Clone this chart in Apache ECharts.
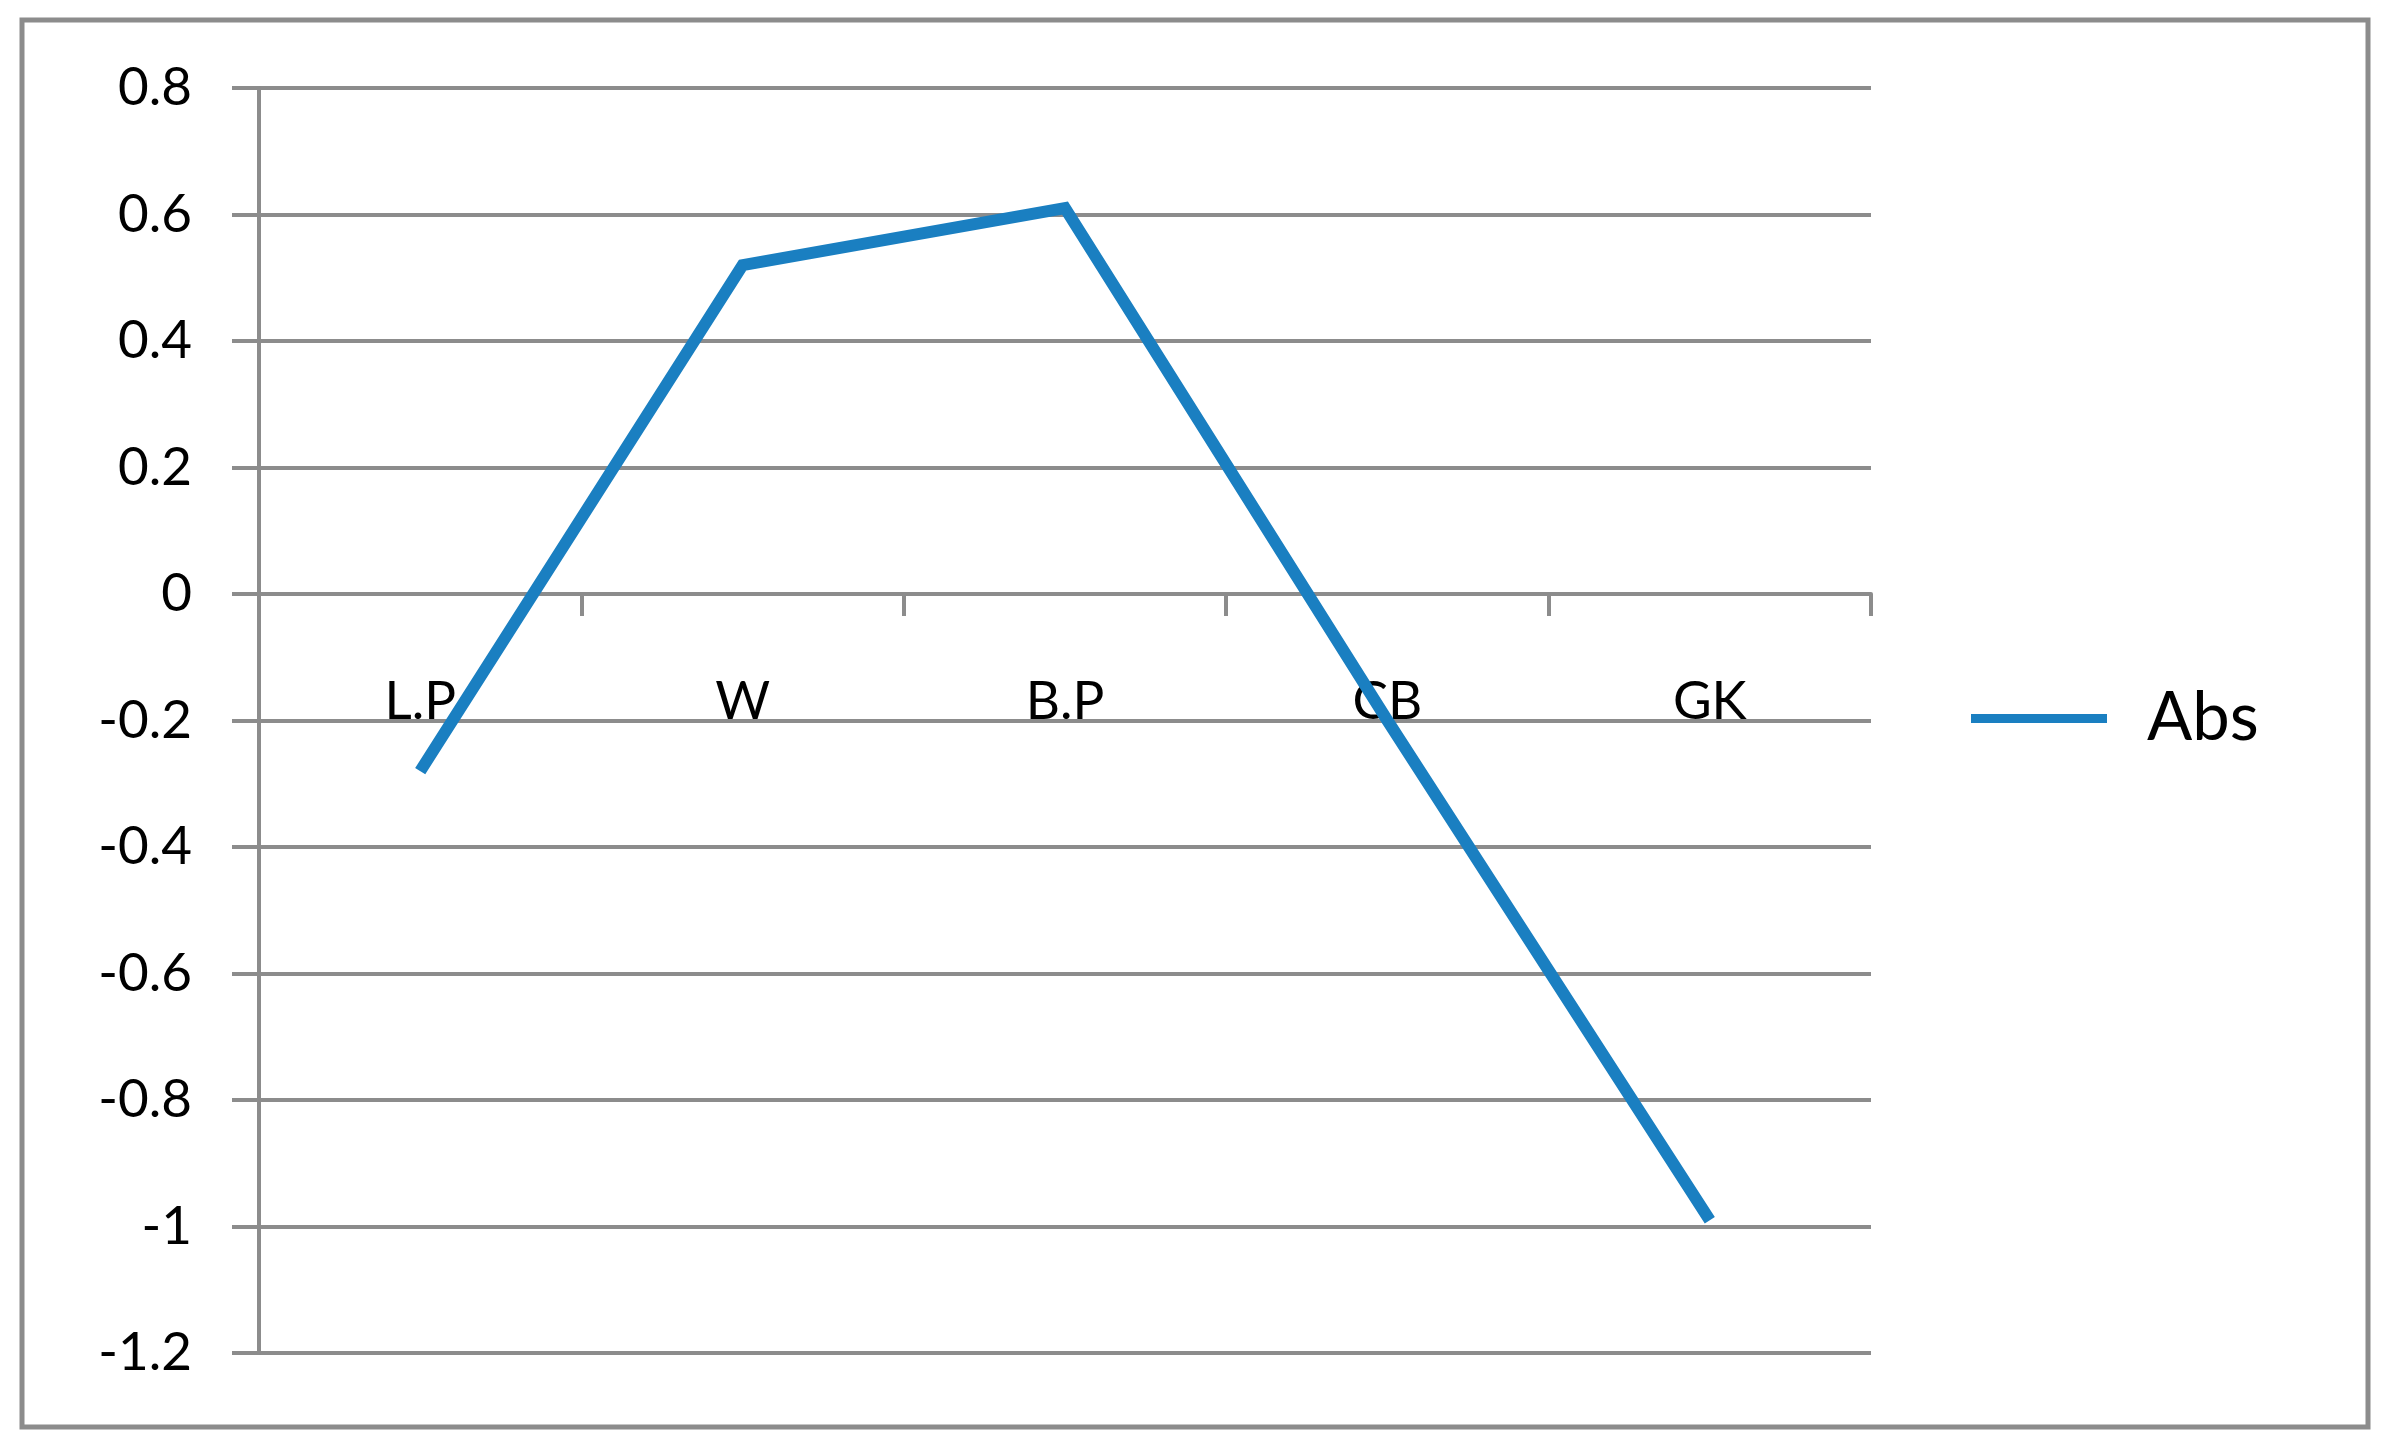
<!DOCTYPE html>
<html>
<head>
<meta charset="utf-8">
<script src="https://cdn.jsdelivr.net/npm/echarts@6/dist/echarts.min.js"></script>
<style>
  html, body { margin: 0; padding: 0; background: #fff; }
  #chart { width: 2393px; height: 1452px; }
</style>
</head>
<body>
<div id="chart"></div>
<script>
// values
const categories = ['L.P', 'W', 'B.P', 'CB', 'GK'];
const absValues = [-0.28, 0.52, 0.61, -0.2, -0.99];
const seriesName = 'Abs';

const gray = '#8c8c8c';
const lineBlue = '#1a7fc1';
const fontFamily = 'Lato, "Open Sans", sans-serif';

const chart = echarts.init(document.getElementById('chart'));

chart.setOption({
  backgroundColor: '#fff',
  animation: false,
  textStyle: { fontFamily: fontFamily, color: '#000' },
  graphic: [
    {
      type: 'rect',
      shape: { x: 22, y: 20, width: 2346, height: 1407 },
      style: { fill: 'none', stroke: gray, lineWidth: 5 },
      silent: true,
    },
  ],
  grid: {
    left: 259,
    right: 522,
    top: 88,
    bottom: 99,
    containLabel: false,
    outerBoundsMode: 'none',
  },
  legend: {
    left: 1966,
    top: 680,
    icon: 'rect',
    itemWidth: 136,
    itemHeight: 9,
    data: [seriesName],
    textStyle: {
      fontFamily: fontFamily,
      fontSize: 67,
      color: '#000',
      padding: [0, 0, 0, 35],
    },
  },
  xAxis: {
    type: 'category',
    data: categories,
    boundaryGap: true,
    axisLine: { show: true, onZero: true, lineStyle: { color: gray, width: 4 } },
    axisTick: { show: true, length: 22, lineStyle: { color: gray, width: 4 } },
    // labels sit just under the zero line, not at the grid bottom
    axisLabel: { margin: -678, fontSize: 53, color: '#000', fontFamily: fontFamily },
    splitLine: { show: false },
  },
  yAxis: {
    type: 'value',
    min: -1.2,
    max: 0.8,
    interval: 0.2,
    axisLine: { show: true, lineStyle: { color: gray, width: 4 } },
    axisTick: { show: true, length: 27, lineStyle: { color: gray, width: 4 } },
    axisLabel: {
      margin: 67,
      fontSize: 53,
      color: '#000',
      fontFamily: fontFamily,
      formatter: (v) => String(Math.round(v * 10) / 10),
    },
    splitLine: { show: true, lineStyle: { color: gray, width: 4 } },
  },
  series: [
    {
      name: seriesName,
      type: 'line',
      data: absValues,
      symbol: 'none',
      color: lineBlue,
      lineStyle: { color: lineBlue, width: 12, cap: 'butt', join: 'miter' },
    },
  ],
});
</script>
</body>
</html>
